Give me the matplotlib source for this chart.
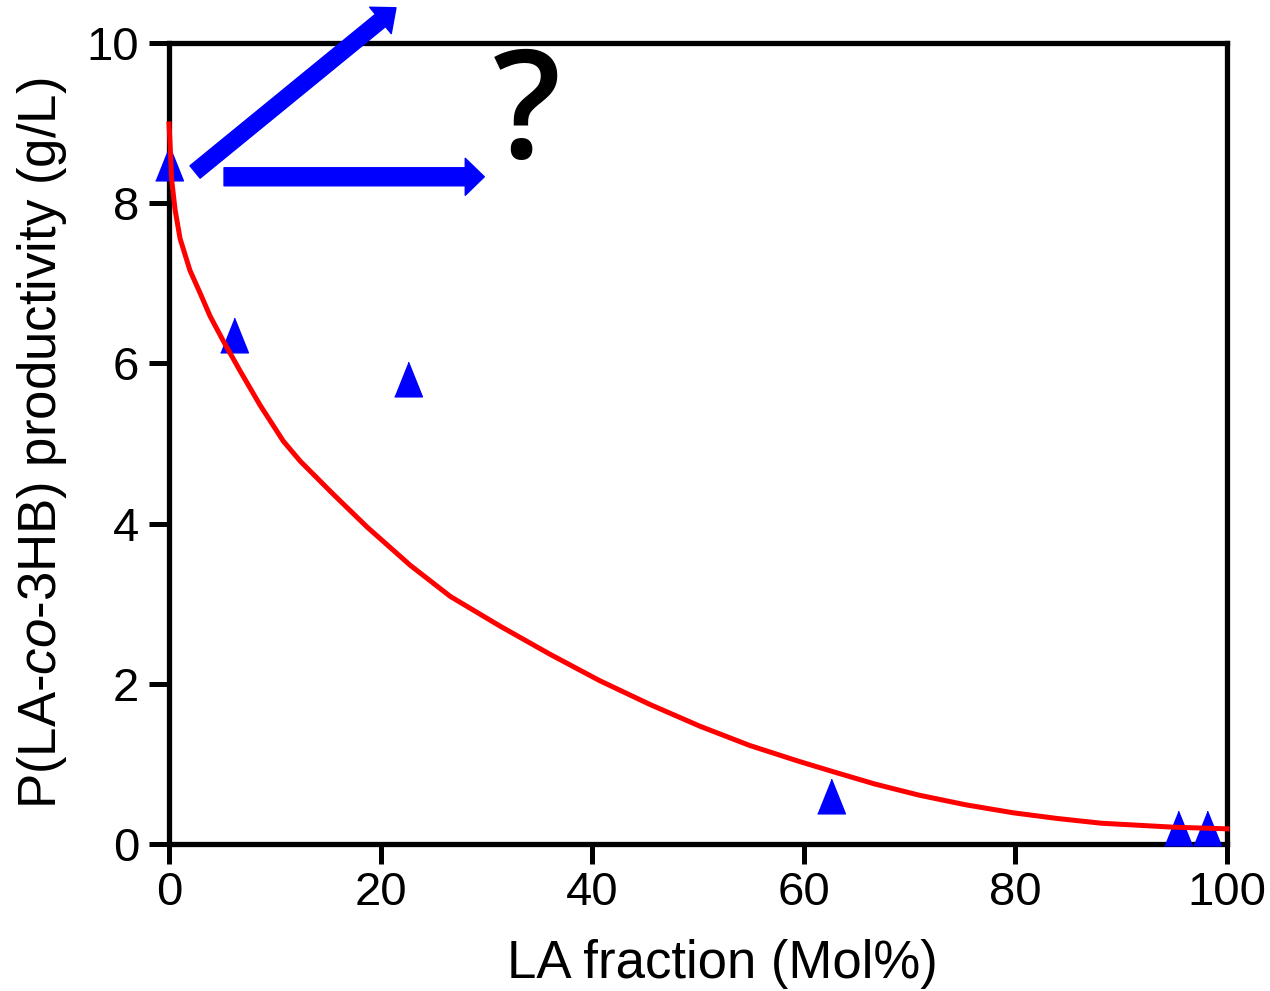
import matplotlib.pyplot as plt
from matplotlib.patches import FancyArrowPatch

plt.rcParams['font.family'] = ['Liberation Sans', 'DejaVu Sans']
plt.rcParams['mathtext.fontset'] = 'custom'
plt.rcParams['mathtext.rm'] = 'Liberation Sans'
plt.rcParams['mathtext.it'] = 'Liberation Sans:italic'

# measured points (LA fraction, productivity)
la_frac = [0, 6.1, 22.55, 62.6, 95.4, 98.1]
productivity = [8.5, 6.36, 5.81, 0.60, 0.20, 0.20]

# trend line
fit_x = [0, 0.1, 0.25, 0.57, 1.04, 1.98, 2.93, 3.88, 5.13, 6.7, 8.6, 10.8,
         12.4, 15.5, 18.7, 22.8, 26.6, 31.3, 36.0, 40.7,
         45.5, 50.2, 54.9, 59.6, 62.6, 66.7, 70.9, 75.3, 79.8, 83.9, 88.1,
         95.0, 100]
fit_y = [8.99, 8.72, 8.29, 7.92, 7.56, 7.16, 6.88, 6.59, 6.28, 5.91, 5.48, 5.03,
         4.78, 4.37, 3.96, 3.48, 3.09, 2.72, 2.37, 2.04,
         1.74, 1.47, 1.23, 1.03, 0.91, 0.75, 0.61, 0.49, 0.39, 0.32, 0.26,
         0.21, 0.19]

x_ticks = [0, 20, 40, 60, 80, 100]
y_ticks = [0, 2, 4, 6, 8, 10]

fig = plt.figure(figsize=(12.7, 9.91), dpi=100)
ax = fig.add_axes([0.1331, 0.1483, 0.833, 0.8083])

tri = [(-0.8, -1), (0.8, -1), (0, 1)]
ax.plot(la_frac, productivity, linestyle='none', marker=tri, markersize=25,
        color='#0000FF', markeredgewidth=1, clip_on=False, zorder=3)
ax.plot(fit_x, fit_y, color='#FF0000', linewidth=3.6, clip_on=False, zorder=4,
        solid_joinstyle='round')

ax.set_xlim(0, 100)
ax.set_ylim(0, 10)
ax.set_xticks(x_ticks)
ax.set_yticks(y_ticks)
ax.tick_params(axis='both', direction='out', length=14.4, width=3.6,
               labelsize=34, colors='black')
ax.tick_params(axis='x', pad=5)
ax.tick_params(axis='y', pad=7)
for s in ax.spines.values():
    s.set_linewidth(3.8)

ax.set_xlabel('LA fraction (Mol%)', fontsize=38)
ax.xaxis.set_label_coords(0.523, -0.118)
ax.set_ylabel(r'P(LA-$\it{co}$-3HB) productivity (g/L)', fontsize=38)
ax.yaxis.set_label_coords(-0.095, 0.5)

# blue arrows and question mark
for tail, tip, tw, hw, hl in [((2.46, 8.39), (21.45, 10.44), 11.5, 24.5, 14.4),
                              ((5.2, 8.33), (29.8, 8.33), 13, 26.6, 13.7)]:
    arr = FancyArrowPatch(tail, tip, arrowstyle='simple,head_length=%g,head_width=%g,tail_width=%g' % (hl, hw, tw),
                          mutation_scale=1, color='#0000FF', shrinkA=0, shrinkB=0,
                          clip_on=False, zorder=5)
    ax.add_patch(arr)

ax.text(33.8, 8.56, '?', fontsize=108, family=['Open Sans', 'DejaVu Sans'],
        fontweight='semibold', ha='center', va='baseline', color='black')

plt.savefig('out.png', dpi=100)
